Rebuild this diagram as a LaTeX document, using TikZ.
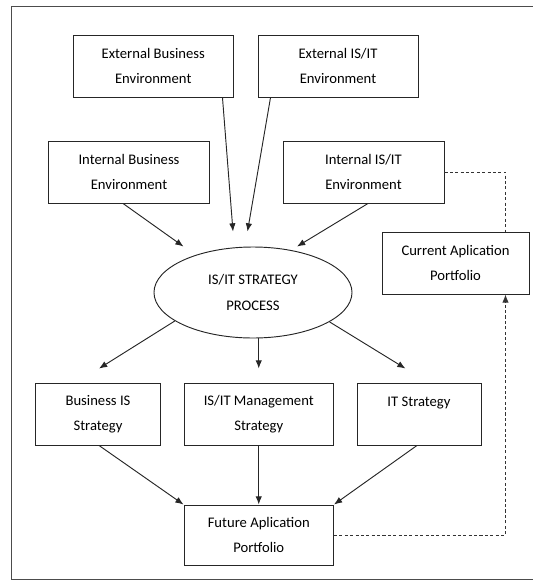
\documentclass[tikz,border=0pt]{standalone}
\usepackage{fontspec}
\setmainfont{Carlito}
\usetikzlibrary{calc,shapes.geometric,arrows.meta}

\begin{document}
\begin{tikzpicture}[x=0.03cm,y=-0.03cm,>={Latex[length=7pt,width=5.5pt]},
    box/.style={draw=black!85,line width=0.8pt,inner sep=0pt,minimum height=1.86cm,
      align=center,font=\fontsize{12.5}{21.5}\selectfont},
    arr/.style={->,draw=black!85,line width=0.8pt},
    link/.style={draw=black!80,line width=0.8pt,dash pattern=on 2.6pt off 2pt}]
        \useasboundingbox (0,0) rectangle (533,581);
        \draw[black!70,line width=0.6pt] (533,6)--(11,6)--(11,579)--(533,579);

        \node[box,minimum width=4.815cm] (extbus) at (153.25,66) {External Business\\Environment};
        \node[box,minimum width=4.8cm] (extis) at (338,66) {External IS/IT\\Environment};
        \node[box,minimum width=4.815cm] (intbus) at (129,172) {Internal Business\\Environment};
        \node[box,minimum width=4.83cm] (intis) at (363.5,172) {Internal IS/IT\\Environment};
        \node[box,minimum width=4.41cm] (curapp) at (455.5,263) {Current Aplication\\Portfolio};

        \node[box,ellipse,minimum width=5.94cm,minimum height=2.73cm] (proc) at (253,292.5) {IS/IT STRATEGY\\PROCESS};

        \node[box,minimum width=3.735cm] (bisstr) at (98,414) {Business IS\\Strategy};
        \node[box,minimum width=4.485cm] (mgmt) at (258.75,414) {IS/IT Management\\Strategy};
        \node[box,minimum width=3.72cm] (itstr) at (419,414) {IT Strategy\\~};
        \node[box,minimum width=4.485cm,minimum height=1.8cm] (future) at (258.75,535) {Future Aplication\\Portfolio};

        % into the strategy process
        \draw[arr] ($(extbus.south east)+(-11.5,0)$) -- ($(proc.north)+(-20,-15)$);
        \draw[arr] ($(extis.south west)+(13,0)$) -- ($(proc.north)+(-5.5,-15)$);
        \draw[arr] ($(intbus.south)+(-6,0)$) -- ($(proc.north)+(-69.5,0)$);
        \draw[arr] ($(intis.south)+(4.5,0)$) -- ($(proc.north)+(44,0)$);

        % out of the strategy process
        \draw[arr] (proc.200) -- ($(bisstr.north)+(1,-14)$);
        \draw[arr] (proc.south -| mgmt.north) -- ($(mgmt.north)+(0,-14)$);
        \draw[arr] (proc.339) -- ($(itstr.north)+(-13.5,-14)$);

        % strategies to the future portfolio
        \draw[arr] ($(bisstr.south)+(1,0)$) -- (future.north west);
        \draw[arr] (mgmt.south) -- (future.north);
        \draw[arr] ($(itstr.south)+(-2,0)$) -- (future.north east);

        % portfolios
        \draw[link,->] (future.east) -| ($(curapp.south)+(50,0)$);
        \draw[link] (intis.east) -| ($(curapp.north)+(50,0)$);
      \end{tikzpicture}
\end{document}
